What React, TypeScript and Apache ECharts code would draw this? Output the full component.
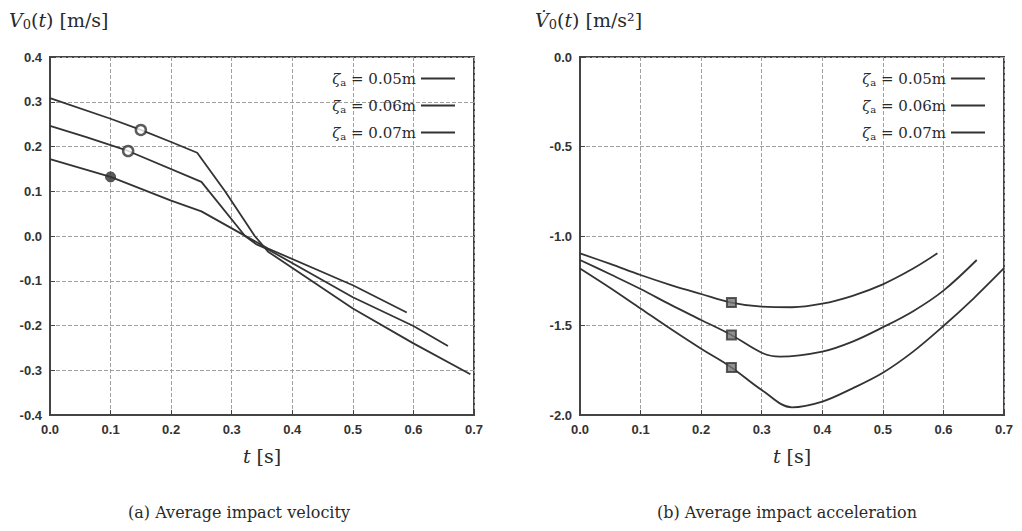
import React, { useEffect, useRef } from "react";
import * as echarts from "echarts";

// legend labels (zeta_a values, m)
const zetaValues = ["0.05", "0.06", "0.07"];

// (a) average impact velocity  [t (s), V0 (m/s)]
const velA = [[0, 0.172], [0.1, 0.132], [0.2, 0.079], [0.25, 0.055], [0.32, 0.002], [0.36, -0.028], [0.5, -0.11], [0.589, -0.171]];
const velB = [[0, 0.246], [0.06, 0.221], [0.129, 0.19], [0.25, 0.121], [0.322, 0.0], [0.34, -0.018], [0.36, -0.03], [0.5, -0.137], [0.6, -0.201], [0.657, -0.246]];
const velC = [[0, 0.308], [0.1, 0.262], [0.15, 0.237], [0.2, 0.21], [0.243, 0.186], [0.289, 0.1], [0.338, 0.0], [0.36, -0.035], [0.5, -0.162], [0.6, -0.24], [0.694, -0.309]];
const velMarks = [[0.1, 0.132], [0.129, 0.19], [0.15, 0.237]];

// (b) average impact acceleration  [t (s), dV0/dt (m/s^2)]
const accA = [[0, -1.097], [0.05, -1.156], [0.1, -1.218], [0.15, -1.274], [0.2, -1.324], [0.25, -1.372], [0.3, -1.395], [0.35, -1.398], [0.4, -1.378], [0.45, -1.334], [0.5, -1.27], [0.55, -1.182], [0.59, -1.097]];
const accB = [[0, -1.134], [0.05, -1.214], [0.1, -1.296], [0.15, -1.385], [0.2, -1.469], [0.25, -1.553], [0.3, -1.652], [0.33, -1.674], [0.4, -1.646], [0.45, -1.59], [0.5, -1.51], [0.55, -1.42], [0.6, -1.305], [0.655, -1.134]];
const accC = [[0, -1.181], [0.05, -1.29], [0.1, -1.405], [0.15, -1.52], [0.2, -1.63], [0.25, -1.734], [0.3, -1.86], [0.35, -1.957], [0.4, -1.925], [0.45, -1.851], [0.5, -1.764], [0.55, -1.646], [0.6, -1.503], [0.65, -1.348], [0.7, -1.18]];
const accMarks = [[0.25, -1.372], [0.25, -1.553], [0.25, -1.734]];

const xTicks = { min: 0, max: 0.7, interval: 0.1 };

const SERIF = "DejaVu Serif";
const SANS = "Liberation Sans";
const INK = "#2a2a2a";

const richBase = (size: number) => ({
  it: { fontFamily: SERIF, fontStyle: "italic", fontSize: size, fill: INK, color: INK },
  n: { fontFamily: SERIF, fontSize: size, fill: INK, color: INK },
  sub: { fontFamily: SERIF, fontSize: Math.round(size * 0.68), fill: INK, color: INK, padding: [Math.round(size * 0.45), 0, 0, 0] },
});

export default function App() {
  const ref = useRef<HTMLDivElement>(null);
  useEffect(() => {
    if (!ref.current) return;
    const chart = echarts.init(ref.current, undefined, { renderer: "svg" });

    const labelStyle = { fontFamily: SANS, fontSize: 13, fontWeight: "bold", color: "#333", margin: 8, formatter: (v: number) => v.toFixed(1) };

    const xAxisCommon = (gridIndex: number) => ({
      type: "value",
      gridIndex,
      min: xTicks.min,
      max: xTicks.max,
      interval: xTicks.interval,
      axisLine: { show: true, onZero: false, lineStyle: { color: "#444", width: 2 } },
      axisTick: { show: true, inside: true, length: 5, lineStyle: { color: "#444" } },
      axisLabel: labelStyle,
      splitLine: { show: true, lineStyle: { color: "#a0a0a0", type: [4, 2], width: 1 } },
    });
    const yAxisCommon = (gridIndex: number, min: number, max: number, interval: number) => ({
      type: "value",
      gridIndex,
      min,
      max,
      interval,
      axisLine: { show: true, onZero: false, lineStyle: { color: "#444", width: 2 } },
      axisTick: { show: true, inside: true, length: 5, lineStyle: { color: "#444" } },
      axisLabel: labelStyle,
      splitLine: { show: true, lineStyle: { color: "#a0a0a0", type: [4, 2], width: 1 } },
    });

    const lineSeries = (name: string, data: number[][], gi: number, smooth: boolean | number) => ({
      type: "line",
      name,
      xAxisIndex: gi,
      yAxisIndex: gi,
      data,
      symbol: "none",
      smooth,
      lineStyle: { color: "#333", width: 1.8 },
      itemStyle: { color: "#333" },
      z: 3,
    });

    const legendCommon = (right: number) => ({
      data: zetaValues.map((n) => ({ name: n, icon: "path://M0,0 L34,0 L34,2 L0,2 Z" })),
      orient: "vertical",
      align: "right",
      right,
      top: 66,
      itemWidth: 34,
      itemHeight: 14,
      itemGap: 11,
      selectedMode: false,
      itemStyle: { color: "#333", borderWidth: 0 },
      formatter: (name: string) => `{it|ζ}{sub|a}{n| = ${name}m}`,
      textStyle: { rich: richBase(15), color: INK },
    });

    const rich19 = richBase(19);

    chart.setOption({
      animation: false,
      backgroundColor: "#fff",
      grid: [
        { left: 50, top: 57, width: 424, height: 358, show: true, borderColor: "#444", borderWidth: 2, backgroundColor: "transparent" },
        { left: 580, top: 57, width: 424, height: 358, show: true, borderColor: "#444", borderWidth: 2, backgroundColor: "transparent" },
      ],
      xAxis: [xAxisCommon(0), xAxisCommon(1)],
      yAxis: [yAxisCommon(0, -0.4, 0.4, 0.1), yAxisCommon(1, -2.0, 0.0, 0.5)],
      legend: [legendCommon(562), legendCommon(32)],
      series: [
        lineSeries(zetaValues[0], velA, 0, false),
        lineSeries(zetaValues[1], velB, 0, false),
        lineSeries(zetaValues[2], velC, 0, false),
        lineSeries(zetaValues[0], accA, 1, 0.35),
        lineSeries(zetaValues[1], accB, 1, 0.35),
        lineSeries(zetaValues[2], accC, 1, 0.35),
        {
          type: "scatter",
          xAxisIndex: 0,
          yAxisIndex: 0,
          symbol: "circle",
          symbolSize: 10,
          z: 5,
          data: velMarks.map((p, i) => ({
            value: p,
            itemStyle: i === 0
              ? { color: "#333", borderColor: "#333", borderWidth: 1 }
              : { color: "#fff", borderColor: "#333", borderWidth: 2.5 },
          })),
        },
        {
          type: "scatter",
          xAxisIndex: 1,
          yAxisIndex: 1,
          symbol: "rect",
          symbolSize: 9,
          z: 5,
          itemStyle: { color: "#777", borderColor: "#333", borderWidth: 2 },
          data: accMarks,
        },
      ],
      graphic: [
        { type: "text", x: 9, y: 20, style: { text: "{it|V}{sub|0}{n|(}{it|t}{n|) [m/s]}", rich: rich19, verticalAlign: "middle", align: "left" } },
        { type: "text", x: 535, y: 20, style: { text: "{it|V\u0307}{sub|0}{n|(}{it|t}{n|) [m/s²]}", rich: rich19, verticalAlign: "middle", align: "left" } },
        { type: "text", x: 262, y: 456, style: { text: "{it|t}{n| [s]}", rich: rich19, verticalAlign: "middle", align: "center" } },
        { type: "text", x: 792, y: 456, style: { text: "{it|t}{n| [s]}", rich: rich19, verticalAlign: "middle", align: "center" } },
        { type: "text", x: 239, y: 512, style: { text: "(a) Average impact velocity", font: `16px "${SERIF}"`, fill: INK, verticalAlign: "middle", align: "center" } },
        { type: "text", x: 787, y: 512, style: { text: "(b) Average impact acceleration", font: `16px "${SERIF}"`, fill: INK, verticalAlign: "middle", align: "center" } },
      ],
    });
    return () => chart.dispose();
  }, []);
  return <div ref={ref} style={{ position: "fixed", left: 0, top: 0, width: 1022, height: 531 }} />;
}
